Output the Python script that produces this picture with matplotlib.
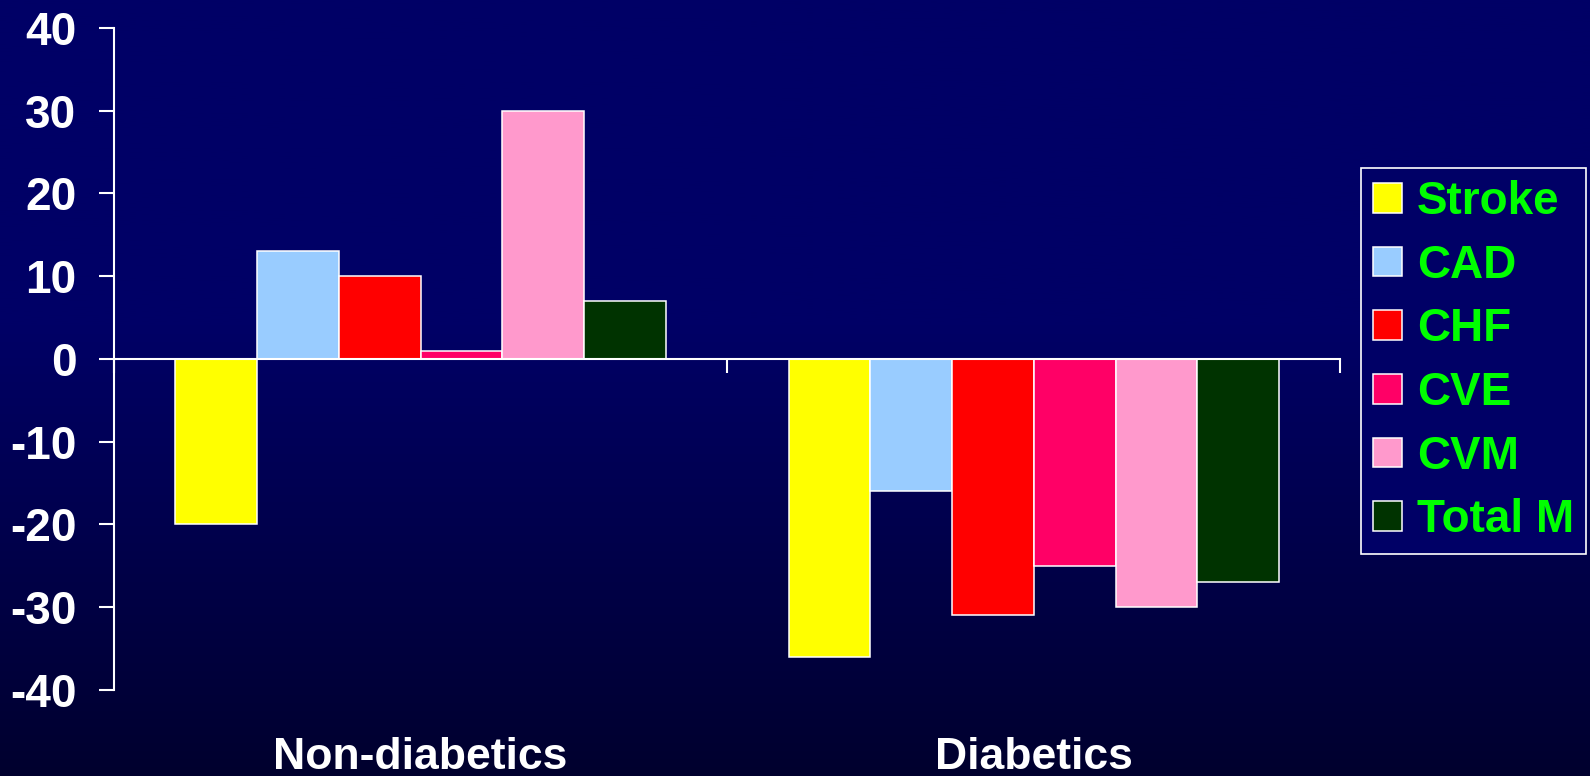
import numpy as np
import matplotlib
matplotlib.use("Agg")
import matplotlib.pyplot as plt
from matplotlib.transforms import blended_transform_factory

# Data: percent change in outcome by patient group
groups = ["Non-diabetics", "Diabetics"]
outcomes = ["Stroke", "CAD", "CHF", "CVE", "CVM", "Total M"]
stroke = [-20, -36]
cad = [13, -16]
chf = [10, -31]
cve = [1, -25]
cvm = [30, -30]
total_m = [7, -27]
series = [stroke, cad, chf, cve, cvm, total_m]
colors = ["#FFFF00", "#99CCFF", "#FF0000", "#FF0066", "#FF99CC", "#003300"]
yticks = [-40, -30, -20, -10, 0, 10, 20, 30, 40]

plt.rcParams["font.family"] = ["Liberation Sans", "DejaVu Sans"]
plt.rcParams["font.weight"] = "bold"

fig = plt.figure(figsize=(15.9, 7.76), dpi=100)

# Navy background, darkening toward the bottom
bg = fig.add_axes([0, 0, 1, 1], zorder=0)
bg.set_axis_off()
ys = np.linspace(0, 1, 400)
top = np.array([0, 0, 102]) / 255
bottom = np.array([0, 0, 46]) / 255
frac = np.clip((ys - 0.42) / 0.58, 0, 1)
grad = top[None, :] * (1 - frac[:, None]) + bottom[None, :] * frac[:, None]
bg.imshow(grad[:, None, :], aspect="auto", extent=[0, 1, 1, 0])

ax = fig.add_axes([0.0717, 0.111, 0.843 - 0.0717, 0.964 - 0.111], zorder=1)
ax.patch.set_alpha(0)

n = len(outcomes)
total_w = 0.8
w = total_w / n
x = np.arange(len(groups))
handles = []
for i, (vals, c, name) in enumerate(zip(series, colors, outcomes)):
    pos = x - total_w / 2 + w * (i + 0.5)
    b = ax.bar(pos, vals, width=w, color=c, edgecolor="white", linewidth=1.1,
               label=name, zorder=2)
    handles.append(b)

ax.set_xlim(-0.5, len(groups) - 0.5)
ax.set_ylim(-40, 40)
ax.set_yticks(yticks)
ax.set_yticklabels([str(v) for v in yticks])

for s in ["top", "right"]:
    ax.spines[s].set_visible(False)
ax.spines["left"].set_color("white")
ax.spines["left"].set_linewidth(1.5)
ax.spines["bottom"].set_position(("data", 0))
ax.spines["bottom"].set_color("white")
ax.spines["bottom"].set_linewidth(1.5)
ax.spines["bottom"].set_zorder(3)

ax.tick_params(axis="y", colors="white", labelcolor="white", labelsize=33,
               length=11, width=1.5, pad=16, direction="out")
ax.set_xticks(np.arange(-0.5, len(groups), 1.0))
ax.tick_params(axis="x", colors="white", length=10, width=1.5,
               direction="out", labelbottom=False)

# Category labels sit below the plot area
trans = blended_transform_factory(ax.transData, fig.transFigure)
for xi, g in zip(x, groups):
    ax.text(xi, 1 - 769 / 776, g, transform=trans, ha="center", va="baseline",
            fontsize=32, fontweight="bold", color="white")

leg = ax.legend(handles=handles, labels=outcomes, loc="upper left",
                bbox_to_anchor=(0.856, 0.7835), bbox_transform=fig.transFigure,
                borderaxespad=0, fontsize=33, frameon=True, fancybox=False,
                handlelength=0.63, handleheight=0.62, handletextpad=0.33,
                labelspacing=0.43, borderpad=0.26)
leg.get_frame().set_facecolor("#000066")
leg.get_frame().set_edgecolor("white")
leg.get_frame().set_linewidth(1.2)
leg.get_frame().set_alpha(1)
for t in leg.get_texts():
    t.set_color("#00FF00")
    t.set_fontweight("bold")

fig.savefig("out.png", dpi=100)
